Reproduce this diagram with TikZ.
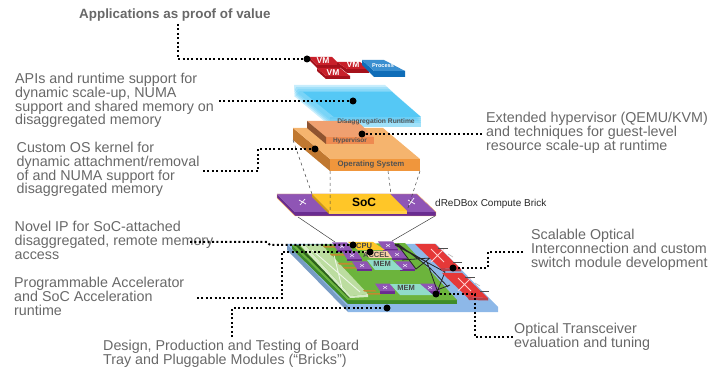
\documentclass[tikz,border=0pt]{standalone}
\usepackage{fontspec}
\setmainfont{Liberation Sans}
\definecolor{txt}{HTML}{686868}
\definecolor{vmred}{HTML}{C8202A}
\definecolor{vmdark}{HTML}{A5111B}
\definecolor{procb}{HTML}{3A8FD0}
\definecolor{procd}{HTML}{0F6DB8}
\definecolor{skyb}{HTML}{55C8F5}
\definecolor{osl}{HTML}{F5B46E}
\definecolor{osd}{HTML}{F0963C}
\definecolor{hyl}{HTML}{F0A070}
\definecolor{hyd}{HTML}{EE8A50}
\definecolor{purp}{HTML}{8F55B5}
\definecolor{purd}{HTML}{6A2C90}
\definecolor{socy}{HTML}{FFC628}
\definecolor{socd}{HTML}{D09A10}
\definecolor{baseb}{HTML}{8DB8E8}
\definecolor{boardg}{HTML}{6CB43C}
\definecolor{boardd}{HTML}{3F8C28}
\definecolor{memt}{HTML}{90DCC8}
\definecolor{palegr}{HTML}{BCDDA0}
\definecolor{xred}{HTML}{E53838}
\definecolor{xdark}{HTML}{B8404A}
\definecolor{strip}{HTML}{C08A30}
\tikzset{
 lab/.style={font=\fontsize{14.3}{13.75}\selectfont, text=txt, align=left, anchor=north west, inner sep=0pt},
 blab/.style={inner sep=0pt},
 dotline/.style={line width=2pt, dash pattern=on 2pt off 2.4pt, black},
 endot/.style={circle, fill=black, minimum size=7pt, inner sep=0pt},
 thinl/.style={black!75, line width=0.5pt},
 xm/.style={white, line width=0.7pt},
 vmtext/.style={blab,text=white,font=\fontsize{8.5}{9}\selectfont\bfseries},
 chiptext/.style={blab,text=black!72,font=\fontsize{7.5}{8}\selectfont\bfseries},
}
\begin{document}
\begin{tikzpicture}[x=1pt,y=-1pt]
\useasboundingbox (0,0) rectangle (709,371);
% VM layer
\fill[vmdark] (309,57)--(317,65)--(340,65)--(340,68)--(317,68)--(309,60)--cycle;
\fill[vmred] (309,57)--(332,57)--(340,65)--(317,65)--cycle;
\fill[vmdark] (337,62)--(347,69)--(369,69)--(369,73)--(347,73)--(337,65)--cycle;
\fill[vmred] (337,62)--(360,62)--(369,69)--(347,69)--cycle;
\fill[vmdark] (317,68)--(326,76)--(350,76)--(350,79)--(326,79)--(317,71)--cycle;
\fill[vmred] (317,68)--(340,68)--(350,76)--(326,76)--cycle;
\fill[procd] (362,60)--(374,71)--(405,71)--(405,77)--(374,77)--(362,65)--cycle;
\fill[procb] (362,60)--(384,60)--(405,71)--(374,71)--cycle;
\node[vmtext] (vma) at (323,61) {VM};
\node[vmtext] (vmb) at (353,65) {VM};
\node[vmtext] (vmc) at (333,73) {VM};
\node[blab,text=white,font=\fontsize{5.6}{6}\selectfont\bfseries] (proc) at (383,66) {Process};
% Disaggregation runtime
\fill[skyb!55] (330,117)--(421,117)--(421,127)--(330,127)--cycle;
\foreach \d in {0,2,4,6}{
 \fill[skyb,opacity=.32] (294+\d,85+\d)--(385+\d,85+\d)--(421,117+\d)--(330,117+\d)--(330,120+\d)--(294,90+\d)--cycle;
}
\fill[skyb] (303,92)--(392,92)--(421,117)--(334,117)--cycle;
% OS
\fill[osd!80!black] (293,128)--(330,159)--(330,171)--(293,140)--cycle;
\fill[osd] (330,159)--(420,159)--(420,171)--(330,171)--cycle;
\fill[osl] (293,128)--(383,128)--(420,159)--(330,159)--cycle;
% Hypervisor
\fill[hyl] (307,121)--(357,121)--(374,137)--(326,137)--cycle;
\fill[hyd] (326,137)--(374,137)--(374,144)--(326,144)--cycle;
\fill[hyd!60!black] (307,121)--(326,137)--(326,144)--(307,128)--cycle;
\node[blab,text=black!68,font=\fontsize{6.7}{8}\selectfont\bfseries] (dr) at (376,122) {Disaggregation Runtime};
\node[blab,text=black!68,font=\fontsize{6.5}{8}\selectfont\bfseries] (hv) at (350,141) {Hypervisor};
\node[blab,text=black!68,font=\fontsize{7.8}{8}\selectfont\bfseries] (os) at (371,165) {Operating System};
% Links between OS and brick
\coordinate (o1) at (293,140); \coordinate (b1) at (312,194);
\coordinate (o2) at (330,171); \coordinate (b2) at (330,211);
\coordinate (o3) at (388,171); \coordinate (b3) at (391,194);
\coordinate (o4) at (420,171); \coordinate (b4) at (407,211);
% Compute brick
\fill[purd] (277,194)--(295,212)--(295,216)--(277,198)--cycle;
\fill[purd] (295,212)--(436,212)--(436,216)--(295,216)--cycle;
\fill[purp] (277,194)--(417,194)--(436,212)--(295,212)--cycle;
\draw[osl,line width=.4pt] (277,194)--(417,194)--(436,212)--(436,216)--(295,216)--(277,198)--cycle;
\fill[socd] (312,194)--(329,211)--(329,214)--(312,197)--cycle;
\fill[socy] (312,194)--(390,194)--(407,211)--(329,211)--cycle;
\fill[socy!85!white] (329,211)--(407,211)--(407,214)--(329,214)--cycle;
\node[font=\fontsize{12}{14}\selectfont\bfseries, inner sep=0pt] (soc) at (364,202) {SoC};
\draw[xm] (299,200)--(306,204) (305,199)--(300,205);
\draw[xm] (408,200)--(415,204) (414,198)--(409,205);
\draw[thinl,dashed] (o1)--(b1) (o2)--(b2) (o3)--(b3) (o4)--(b4);
\node[font=\fontsize{10}{12}\selectfont, text=black!85, anchor=west, inner sep=0pt] (brick) at (435,204) {dReDBox Compute Brick};
% Board
\coordinate (k1) at (298,217); \coordinate (k2) at (435,216);
\coordinate (k3) at (335,242); \coordinate (k4) at (392,241);
\draw[thinl] (k1)--(k3) (k2)--(k4);
\fill[baseb!85!black] (287,244)--(348,306)--(348,312)--(287,250)--cycle;
\fill[baseb] (287,244)--(436,244)--(498,307)--(498,312)--(348,312)--(348,306)--cycle;
\fill[boardd] (292,245)--(348,300)--(348,304)--(292,249)--cycle;
\fill[boardd] (348,300)--(457,300)--(457,304)--(348,304)--cycle;
\fill[boardg] (292,245)--(405,243)--(457,300)--(348,300)--cycle;
% Pluggable module
\fill[boardd!70!black] (298,245)--(351,297)--(349,298)--(295,245)--cycle;
\fill[palegr!60!white] (300,245)--(305,245)--(351,296)--(368,294)--(368,297)--(350,298)--cycle;
\fill[palegr] (305,245)--(322,245)--(368,294)--(351,296)--cycle;
\draw[white,line width=.9pt,opacity=.75] (312,250)--(360,292) (334,255)--(342,288);
\foreach \xa/\xb/\ya in {323/338/246,330/345/254,338/352/263,343/358/267,363/375/290,367/380/293}{
 \fill[strip] (\xa,\ya)--(\xb,\ya)--(\xb+1.5,\ya+1.6)--(\xa+1.5,\ya+1.6)--cycle;}
% Chips
\foreach \px/\py in {342/247,352/256,362/266,388/246,397/255,405/266,385/288,430/288}{
 \fill[purd] (\px-5,\py+3)--(\px+10,\py+3)--(\px+10,\py+5.5)--(\px-5,\py+5.5)--cycle;
 \fill[purp] (\px-10,\py-4.5)--(\px+5,\py-4.5)--(\px+10,\py+3)--(\px-5,\py+3)--cycle;
 \draw[white,line width=.4pt] (\px-2,\py-2)--(\px+2,\py+1) (\px+2,\py-2)--(\px-2,\py+1);
}
\fill[socy] (348,242)--(373,242)--(385,250)--(358,250)--cycle;
\node[chiptext] (cpu) at (364,246) {CPU};
\fill[osl!60!white] (362,251)--(387,251)--(392,258)--(370,258)--cycle;
\node[chiptext] (acc) at (376,254.5) {ACCEL};
\fill[memt] (367,260)--(392,260)--(403,270)--(375,270)--cycle;
\node[chiptext] (mema) at (382,264) {MEM};
\fill[memt] (390,284)--(420,284)--(433,295)--(400,295)--cycle;
\node[chiptext] (memb) at (406,288) {MEM};
% Optical lines
\draw[black!85,line width=.8pt] (395,244)--(427,262)--(437,290)--(450,285) (397,244)--(416,269)--(430,258)--(402,260) (395,245)--(445,272)--(437,292) (398,244)--(430,268)--(448,287);
% Optical switches
\foreach \ax/\ay in {0/0,27/29}{
 \begin{scope}[shift={(\ax,\ay)}]
 \fill[xdark] (440,268)--(461,269)--(461,271.5)--(442,271)--cycle;
 \fill[xred] (415,244)--(435,244)--(461,269)--(440,268)--cycle;
 \draw[white!80!red,line width=.9pt] (431,249)--(444,262) (444,249)--(431,262);
 \draw[black!70,line width=.7pt] (438,248)--(448,248) (453,262)--(462,262);
 \draw[black!25,line width=.7pt] (448,254)--(453,257);
 \end{scope}
}
% Texts
\node[font=\fontsize{13.4}{15}\selectfont\bfseries, text=txt, anchor=north west, inner sep=0pt] (t1) at (79,9) {Applications as proof of value};
\node[lab] (t2) at (15,73) {APIs and runtime support for\\dynamic scale-up, NUMA\\support and shared memory on\\disaggregated memory};
\node[lab] (t3) at (16.5,142) {Custom OS kernel for\\dynamic attachment/removal\\of and NUMA support for\\disaggregated memory};
\node[lab] (t4) at (486,112) {Extended hypervisor (QEMU/KVM)\\and techniques for guest-level\\resource scale-up at runtime};
\node[lab] (t5) at (14.5,221) {Novel IP for SoC-attached\\disaggregated, remote memory\\access};
\node[lab] (t6) at (14,277) {Programmable Accelerator\\and SoC Acceleration\\runtime};
\node[lab] (t7) at (103,340) {Design, Production and Testing of Board\\Tray and Pluggable Modules (“Bricks”)};
\node[lab] (t8) at (531,229) {Scalable Optical\\Interconnection and custom\\switch module development};
\node[lab] (t9) at (514,323) {Optical Transceiver\\evaluation and tuning};
% Connector dots
\node[endot] (d1) at (307,59) {};
\node[endot] (d2) at (353,101) {};
\node[endot] (d3) at (362,134) {};
\node[endot] (d4) at (315,149) {};
\node[endot] (d5) at (353,245) {};
\node[endot] (d6) at (370,252) {};
\node[endot] (d7) at (387,308) {};
\node[endot] (d8) at (453,268) {};
\node[endot] (d9) at (436,294) {};
\coordinate (c1) at (178,24);
\coordinate (c2) at (219,101);
\coordinate (c3) at (482,134);
\coordinate (c4) at (203,171);
\coordinate (c5) at (190,242);
\coordinate (c6) at (197,298);
\coordinate (c7) at (232,337);
\coordinate (c8) at (523,252);
\coordinate (c9) at (513,337);
\draw[dotline] (c1)|-(d1);
\draw[dotline] (c2)--(d2);
\draw[dotline] (d3)--(c3);
\draw[dotline] (c4)-|(258,149)--(d4);
\draw[dotline] (c5)--(267,242)--(270,245)--(d5);
\draw[dotline] (c6)-|(282,252)--(d6);
\draw[dotline] (c7)|-(d7);
\draw[dotline] (c8)-|(488,268)--(d8);
\draw[dotline] (d9)-|(475,337)--(c9);
\end{tikzpicture}
\end{document}
